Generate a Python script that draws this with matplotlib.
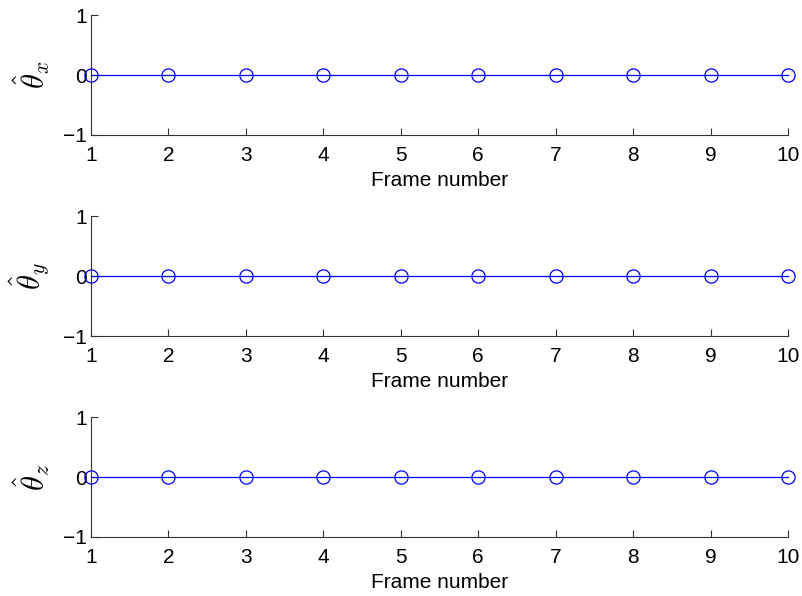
import matplotlib.pyplot as plt

# Estimated rotation parameters per frame (all zero)
frames = [1, 2, 3, 4, 5, 6, 7, 8, 9, 10]
theta_x = [0, 0, 0, 0, 0, 0, 0, 0, 0, 0]
theta_y = [0, 0, 0, 0, 0, 0, 0, 0, 0, 0]
theta_z = [0, 0, 0, 0, 0, 0, 0, 0, 0, 0]
ylabels = [r'$\hat{\theta}_x$', r'$\hat{\theta}_y$', r'$\hat{\theta}_z$']

plt.rcParams['font.family'] = ['Liberation Sans', 'DejaVu Sans']
plt.rcParams['mathtext.fontset'] = 'cm'

fig = plt.figure(figsize=(8.03, 5.96), dpi=100)
bottoms = [0.7735, 0.4362, 0.099]

for b, vals, lab in zip(bottoms, [theta_x, theta_y, theta_z], ylabels):
    ax = fig.add_axes([0.1133, b, 0.868, 0.2013])
    ax.plot(frames, vals, color='blue', lw=0.9, marker='o', ms=9.5,
            mfc='none', mec='blue', mew=0.9, clip_on=False)
    ax.set_xlim(1, 10)
    ax.set_ylim(-1, 1)
    ax.set_xticks(frames)
    ax.set_yticks([-1, 0, 1])
    ax.set_yticklabels(['\u22121', '0', '1'])
    for s in ['top', 'right']:
        ax.spines[s].set_visible(False)
    ax.spines['left'].set_color('#333333')
    ax.spines['bottom'].set_color('#333333')
    ax.tick_params(direction='in', length=5, labelsize=15, color='#333333')
    ax.tick_params(axis='x', pad=8)
    ax.tick_params(axis='y', pad=3)
    ax.set_xlabel('Frame number', fontsize=15, labelpad=4.5)
    ax.set_ylabel(lab, fontsize=22, labelpad=8)

plt.savefig('out.png', dpi=100)
